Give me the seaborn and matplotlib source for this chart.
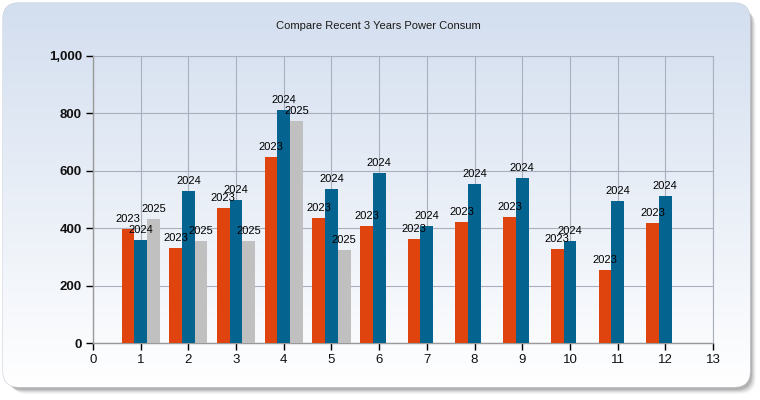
import numpy as np
import pandas as pd
import matplotlib
matplotlib.use("Agg")
import matplotlib.pyplot as plt
from matplotlib.patches import FancyBboxPatch
import seaborn as sns

sns.set_theme(style="white")
plt.rcParams['font.family'] = ['Liberation Sans', 'DejaVu Sans']

# ---- data ----
months = [1, 2, 3, 4, 5, 6, 7, 8, 9, 10, 11, 12]
years = ["2023", "2024", "2025"]
values_2023 = [397, 331, 470, 648, 436, 408, 362, 422, 439, 328, 254, 418]
values_2024 = [359, 530, 498, 812, 537, 592, 408, 554, 575, 355, 495, 512]
values_2025 = [432, 355, 355, 773, 324]          # months 1-5 only
colors = ["#E0440E", "#05648F", "#C0C0C0"]
title = "Compare Recent 3 Years Power Consum"
yticks = [0, 200, 400, 600, 800, 1000]
xticks = list(range(0, 14))

rows = []
for m, v in zip(months, values_2023):
    rows.append({"month": m, "value": v, "year": "2023"})
for m, v in zip(months, values_2024):
    rows.append({"month": m, "value": v, "year": "2024"})
for m, v in zip(months[:len(values_2025)], values_2025):
    rows.append({"month": m, "value": v, "year": "2025"})
df = pd.DataFrame(rows)

fig = plt.figure(figsize=(7.6, 4.0), dpi=100)
fig.patch.set_facecolor("white")

# ---- background panel with shadow and gradient ----
bg = fig.add_axes([0, 0, 1, 1], zorder=-5)
bg.set_xlim(0, 760)
bg.set_ylim(400, 0)
bg.axis("off")
for i, a in enumerate([0.05, 0.08, 0.11, 0.15, 0.2]):
    off = 7 - i
    sh = FancyBboxPatch((4 + off, 4 + off), 745, 383,
                        boxstyle="round,pad=0,rounding_size=16",
                        facecolor="#606060", edgecolor="none", alpha=a)
    bg.add_patch(sh)
panel = FancyBboxPatch((3, 3), 747, 384, boxstyle="round,pad=0,rounding_size=16",
                       facecolor="none", edgecolor="#C8CED8", linewidth=0.8)
bg.add_patch(panel)
grad = np.linspace(0, 1, 256).reshape(-1, 1)
top = np.array([0.827, 0.871, 0.937])
bot = np.array([1.0, 1.0, 1.0])
img = top[None, None, :] * (1 - grad[..., None]) + bot[None, None, :] * grad[..., None]
im = bg.imshow(img, extent=[3, 750, 387, 3], aspect="auto", zorder=1)
im.set_clip_path(panel)
bg.set_xlim(0, 760)
bg.set_ylim(400, 0)

fig.text(378 / 760, 1 - 26 / 400, title, ha="center", va="center",
         fontsize=8, color="#1a1a1a")

# ---- main axes ----
ax = fig.add_axes([93 / 760, 1 - 343 / 400, (713 - 93) / 760, (343 - 56) / 400])
ax.patch.set_alpha(0)

sns.barplot(data=df, x="month", y="value", hue="year", hue_order=years,
            palette=colors, native_scale=True, width=0.8, saturation=1,
            errorbar=None, legend=False, ax=ax, zorder=3)

for cont, yr in zip(ax.containers, years):
    for p in cont:
        p.set_edgecolor("none")
    ax.bar_label(cont, labels=[yr] * len(cont), padding=3.5, fontsize=8,
                 color="black", zorder=5)

ax.set_xlim(0, 13)
ax.set_ylim(0, 1000)
ax.set_xticks(xticks)
ax.set_yticks(yticks)
ax.set_yticklabels([f"{v:,}" for v in yticks], fontsize=9.5, fontweight="bold",
                   color="#111111")
ax.set_xticklabels([str(v) for v in xticks], fontsize=9.5, color="#111111")
ax.set_xlabel("")
ax.set_ylabel("")
ax.grid(True, color="#A9AFBD", linewidth=0.8, zorder=0)
ax.set_axisbelow(True)
for s in ["top", "right"]:
    ax.spines[s].set_visible(True)
    ax.spines[s].set_color("#A9AFBD")
    ax.spines[s].set_linewidth(0.8)
for s in ["left", "bottom"]:
    ax.spines[s].set_color("#9A9A9A")
    ax.spines[s].set_linewidth(1.0)
ax.tick_params(axis="both", which="both", direction="out", length=5, width=1,
               color="black", bottom=True, left=True, pad=3)

fig.savefig("out.png", dpi=100)
